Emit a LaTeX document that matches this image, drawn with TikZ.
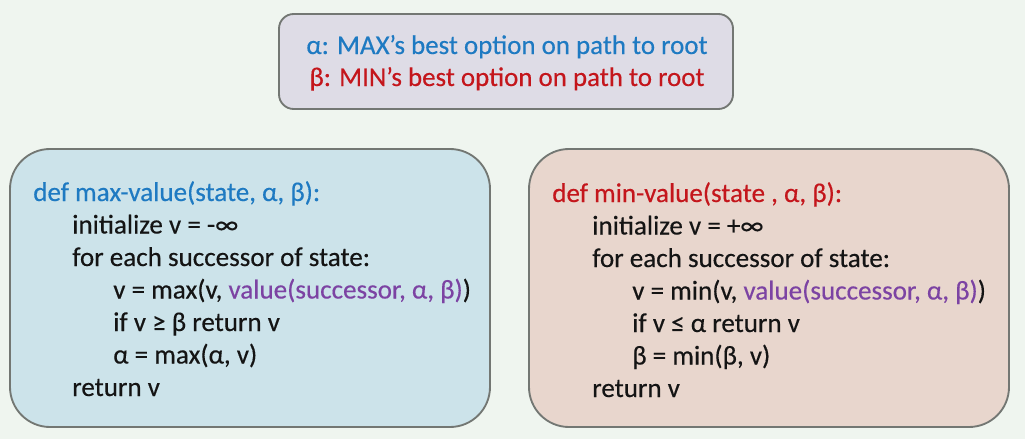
\documentclass[tikz,border=0pt]{standalone}
\usepackage{fontspec}
\setmainfont[FakeBold=0.35]{Carlito}
\definecolor{bgc}{HTML}{EFF5EF}
\definecolor{topfill}{HTML}{DEDCE6}
\definecolor{leftfill}{HTML}{CCE3EA}
\definecolor{rightfill}{HTML}{E8D6CD}
\definecolor{edgec}{HTML}{737773}
\definecolor{bluec}{HTML}{1E7AC2}
\definecolor{redc}{HTML}{C4161C}
\definecolor{purc}{HTML}{7C43A3}
\definecolor{textc}{HTML}{141414}
\tikzset{
  panel/.style={draw=edgec, line width=1.4pt},
  codeline/.style={anchor=base west, inner sep=0pt, font=\fontsize{20.3pt}{24pt}\selectfont, text=textc},
  legend/.style={anchor=base, inner sep=0pt, font=\fontsize{20.2pt}{24pt}\selectfont},
}
\begin{document}
\begin{tikzpicture}[x=0.75pt,y=-0.75pt]
\useasboundingbox (0,0) rectangle (1025,439);
\fill[bgc] (0,0) rectangle (1025,439);
% panels
\draw[panel, fill=topfill, rounded corners=11pt] (279,14) rectangle (733,109);
\draw[panel, fill=leftfill, rounded corners=30pt] (10,149) rectangle (490,427);
\draw[panel, fill=rightfill, rounded corners=30pt] (529,149) rectangle (1009,427);
% legend
\node[legend, text=bluec] (la) at (507,54) {α: MAX’s best option on path to root};
\node[legend, text=redc] (lb) at (507,86) {β: MIN’s best option on path to root};
% left code
\node[codeline, text=bluec] (m1) at (33,201) {def max-value(state, α, β):};
\node[codeline] (m2) at (72,233.5) {initialize v = -∞};
\node[codeline] (m3) at (72,266) {for each successor of state:};
\node[codeline] (m4) at (113,298.5) {v = max(v, \textcolor{purc}{value(successor, α, β)})};
\node[codeline] (m5) at (113,331) {if v ≥ β return v};
\node[codeline] (m6) at (113,363.5) {α = max(α, v)};
\node[codeline] (m7) at (72,396) {return v};
% right code
\node[codeline, text=redc] (n1) at (552,202) {def min-value(state , α, β):};
\node[codeline] (n2) at (592,234.5) {initialize v = +∞};
\node[codeline] (n3) at (592,267) {for each successor of state:};
\node[codeline] (n4) at (632,299.5) {v = min(v, \textcolor{purc}{value(successor, α, β)})};
\node[codeline] (n5) at (632,332) {if v ≤ α return v};
\node[codeline] (n6) at (632,364.5) {β = min(β, v)};
\node[codeline] (n7) at (592,397) {return v};
\end{tikzpicture}
\end{document}
